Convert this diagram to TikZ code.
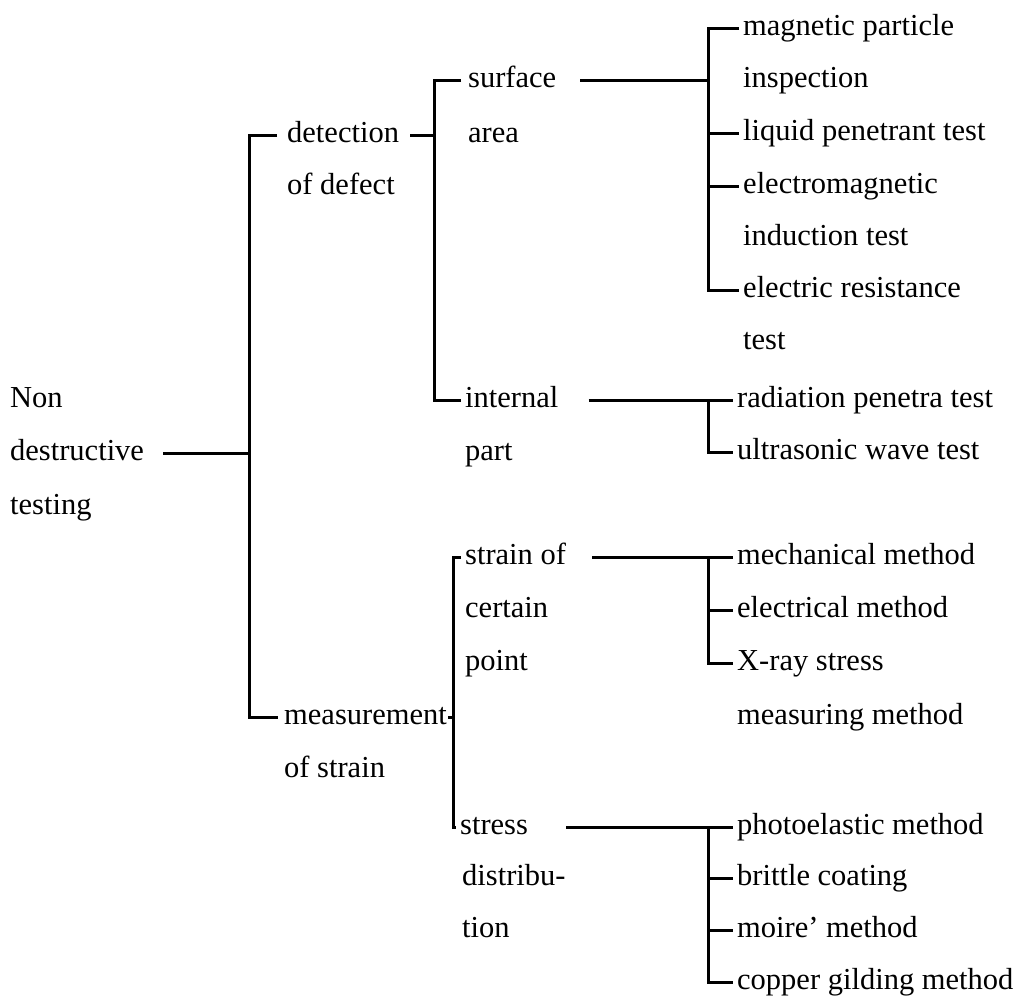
\documentclass[tikz,border=0pt]{standalone}
\usepackage{fontspec}
\setmainfont{Liberation Serif}
\begin{document}
\begin{tikzpicture}[x=1pt,y=-1pt,
  txt/.style={anchor=west,inner xsep=4pt,inner ysep=0pt,text height=22pt,text depth=8pt,
    font=\fontsize{30.5}{36}\selectfont},
  conn/.style={line width=3pt,line join=miter}]
\useasboundingbox (0,0) rectangle (1015,1001);
% junction columns
\coordinate (v1) at (249,0);
\coordinate (v2) at (434,0);
\coordinate (v2b) at (453,0);
\coordinate (v3) at (708,0);
% root
\node[txt] (non) at (6,400) {Non};
\node[txt] (des) at (6,453) {destructive};
\node[txt] (tes) at (6,507) {testing};
% level 1
\node[txt] (det) at (283,135) {detection};
\node[txt] (det2) at (283,187) {of defect};
\node[txt] (mea) at (280,717) {measurement};
\node[txt] (mea2) at (280,770) {of strain};
% level 2
\node[txt] (sur) at (464,80) {surface};
\node[txt] (are) at (464,135) {area};
\node[txt] (int) at (461,400) {internal};
\node[txt] (par) at (461,453) {part};
\node[txt] (str) at (461,557) {strain of};
\node[txt] (cer) at (461,610) {certain};
\node[txt] (poi) at (461,663) {point};
\node[txt] (sts) at (456,827) {stress};
\node[txt] (dis) at (458,878) {distribu-};
\node[txt] (tio) at (458,930) {tion};
% level 3
\node[txt] (mp) at (739,28) {magnetic particle};
\node[txt] (ins) at (739,80) {inspection};
\node[txt] (lpt) at (739,133) {liquid penetrant test};
\node[txt] (em) at (739,186) {electromagnetic};
\node[txt] (ind) at (739,238) {induction test};
\node[txt] (er) at (739,290) {electric resistance};
\node[txt] (tst) at (739,342) {test};
\node[txt] (rad) at (733,400) {radiation penetra test};
\node[txt] (ult) at (733,452) {ultrasonic wave test};
\node[txt] (mec) at (733,557) {mechanical method};
\node[txt] (ele) at (733,610) {electrical method};
\node[txt] (xr) at (733,663) {X-ray stress};
\node[txt] (msr) at (733,717) {measuring method};
\node[txt] (pho) at (733,827) {photoelastic method};
\node[txt] (bri) at (733,878) {brittle coating};
\node[txt] (moi) at (733,930) {moire' method};
\node[txt] (cop) at (733,982) {copper gilding method};
% connectors: root
\draw[conn] ([xshift=15pt]des.east) -- (des.east -| v1);
\draw[conn] ([xshift=-6pt]det.west) -- (det.west -| v1) -- (mea.west -| v1) -- ([xshift=-2pt]mea.west);
% detection
\draw[conn] ([xshift=7pt]det.east) -- (det.east -| v2);
\draw[conn] ([xshift=-3pt]sur.west) -- (sur.west -| v2) -- (int.west -| v2) -- (int.west);
% measurement
\draw[conn] ([xshift=-3pt]mea.east) -- (mea.east -| v2b);
\draw[conn] (str.west) -- (str.west -| v2b) -- (sts.west -| v2b) -- (sts.west);
% surface
\draw[conn] ([xshift=20pt]sur.east) -- (sur.east -| v3);
\draw[conn] (mp.west) -- (mp.west -| v3) -- (er.west -| v3) -- (er.west);
\draw[conn] (lpt.west -| v3) -- (lpt.west);
\draw[conn] (em.west -| v3) -- (em.west);
% internal
\draw[conn] ([xshift=26pt]int.east) -- (rad.west);
\draw[conn] (rad.west -| v3) -- (ult.west -| v3) -- (ult.west);
% strain of certain point
\draw[conn] ([xshift=22pt]str.east) -- (mec.west);
\draw[conn] (mec.west -| v3) -- (xr.west -| v3) -- (xr.west);
\draw[conn] (ele.west -| v3) -- (ele.west);
% stress distribution
\draw[conn] ([xshift=34pt]sts.east) -- (pho.west);
\draw[conn] (pho.west -| v3) -- (cop.west -| v3) -- (cop.west);
\draw[conn] (bri.west -| v3) -- (bri.west);
\draw[conn] (moi.west -| v3) -- (moi.west);
\end{tikzpicture}
\end{document}
